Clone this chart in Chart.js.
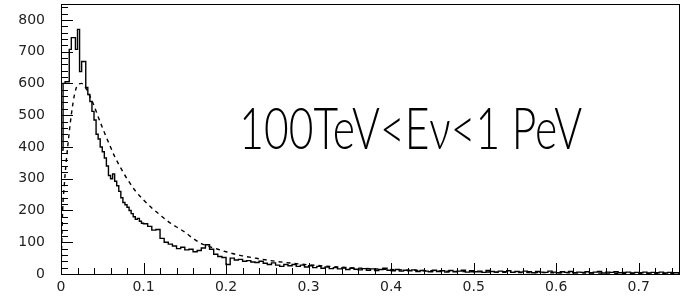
<!DOCTYPE html>
<html>
<head>
<meta charset="utf-8">
<script src="https://cdn.jsdelivr.net/npm/chart.js@4.4.1/dist/chart.umd.min.js"></script>
<style>
  html, body { margin: 0; padding: 0; background: #fff; }
  #wrap { width: 683px; height: 304px; position: relative; }
</style>
</head>
<body>
<div id="wrap"><canvas id="c"></canvas></div>
<script>
// ---- Data ----
const annotationText = "100TeV<E\u03BD<1 PeV";

// Solid histogram: fine bins of width 0.0025 from x = 0 to 0.1
const fineBinWidth = 0.0025;
const fineCounts = [
  150, 390, 600, 605, 605, 707, 744, 744, 707, 770,
  637, 669, 669, 587, 565, 543, 512, 485, 440, 425,
  400, 385, 365, 340, 310, 300, 315, 292, 278, 260,
  240, 225, 218, 210, 200, 190, 180, 172, 175, 166
];

// Solid histogram: coarser bins of width 0.005 from x = 0.1 to 0.75
const coarseStart = 0.1;
const coarseBinWidth = 0.005;
const coarseCounts = [
  160, 158, 150, 138, 140, 112, 100, 94, 88, 80,
  84, 76, 78, 70, 74, 82, 92, 78, 62, 55,
  52, 30, 50, 44, 46, 40, 42, 38, 36, 40,
  34, 30, 35, 28, 24, 30, 26, 30, 24, 28,
  22, 26, 20, 24, 18, 22, 17, 20, 16, 19,
  14, 18, 15, 13, 17, 12, 16, 11, 14, 18,
  12, 10, 14, 9, 12, 10, 13, 8, 11, 9,
  7, 12, 8, 10, 6, 11, 7, 9, 12, 6,
  10, 7, 9, 5, 11, 8, 6, 9, 7, 10,
  5, 8, 6, 9, 7, 4, 8, 6, 5, 9,
  6, 4, 7, 5, 8, 4, 6, 5, 7, 4,
  6, 8, 3, 6, 5, 7, 4, 5, 6, 3,
  5, 4, 6, 3, 5, 4, 6, 3, 5, 4
];

// Dashed curve
const dashX = [0, 0.002, 0.004, 0.006, 0.0085, 0.011, 0.0135, 0.016, 0.02, 0.025,
  0.03, 0.035, 0.04, 0.045, 0.05, 0.055, 0.06, 0.065, 0.07, 0.075,
  0.08, 0.09, 0.1, 0.11, 0.12, 0.13, 0.14, 0.15, 0.16, 0.17,
  0.18, 0.19, 0.2, 0.21, 0.22, 0.24, 0.26, 0.28, 0.3, 0.35,
  0.4, 0.45, 0.5, 0.55, 0.6, 0.65, 0.7, 0.75];
const dashY = [0, 200, 280, 345, 410, 470, 520, 560, 595, 600,
  585, 560, 530, 495, 462, 430, 400, 370, 345, 322,
  300, 262, 233, 208, 186, 165, 148, 132, 112, 96,
  86, 78, 70, 63, 57, 48, 40, 34, 29, 20,
  14, 10, 7, 5, 4, 3, 2, 2];

// Axis tick settings
const xMin = 0, xMax = 0.75, xMajor = 0.1, xMinor = 0.02;
const yMin = 0, yMax = 850, yMajor = 100, yMinor = 20;

// ---- Build datasets ----
const solidPts = [];
fineCounts.forEach((v, i) => solidPts.push({x: i * fineBinWidth, y: v}));
coarseCounts.forEach((v, i) => solidPts.push({x: coarseStart + i * coarseBinWidth, y: v}));
solidPts.push({x: xMax, y: coarseCounts[coarseCounts.length - 1]});

const dashPts = dashX.map((x, i) => ({x: x, y: dashY[i]}));

const frameTicks = {
  id: 'frameTicks',
  afterDatasetsDraw(chart) {
    const ctx = chart.ctx, a = chart.chartArea;
    const xs = chart.scales.x, ys = chart.scales.y;
    ctx.save();
    ctx.strokeStyle = '#000';
    ctx.lineWidth = 1;
    ctx.strokeRect(Math.round(a.left) + 0.5, Math.round(a.top) + 0.5,
      Math.round(a.right - a.left) - 1, Math.round(a.bottom - a.top));
    ctx.beginPath();
    // y ticks (inside, pointing right)
    for (let v = yMin; v <= yMax + 1e-9; v += yMinor) {
      const major = Math.abs(v / yMajor - Math.round(v / yMajor)) < 1e-6;
      const py = Math.round(ys.getPixelForValue(v)) + 0.5;
      ctx.moveTo(a.left, py);
      ctx.lineTo(a.left + (major ? 12 : 7), py);
    }
    // x ticks (inside, pointing up)
    for (let v = xMin; v <= xMax + 1e-9; v += xMinor) {
      const major = Math.abs(v / xMajor - Math.round(v / xMajor)) < 1e-6;
      const px = Math.round(xs.getPixelForValue(v)) + 0.5;
      ctx.moveTo(px, a.bottom);
      ctx.lineTo(px, a.bottom - (major ? 11 : 6));
    }
    ctx.stroke();

    // annotation text
    ctx.fillStyle = '#000';
    ctx.font = '300 57px Lato';
    ctx.textBaseline = 'alphabetic';
    ctx.textAlign = 'left';
    const w = ctx.measureText(annotationText).width;
    const targetW = 343;
    const px = xs.getPixelForValue(0.216);
    const py = ys.getPixelForValue(392);
    ctx.translate(px, py);
    ctx.scale(targetW / w, 1);
    ctx.fillText(annotationText, 0, 0);
    ctx.restore();
  }
};

const noPad = (s) => { s.paddingTop = 0; s.paddingBottom = 0; s.paddingLeft = 0; s.paddingRight = 0; };

new Chart(document.getElementById('c'), {
  type: 'scatter',
  data: {
    datasets: [
      {
        data: solidPts,
        showLine: true,
        stepped: 'after',
        borderColor: '#000',
        borderWidth: 1.4,
        pointRadius: 0,
        fill: false
      },
      {
        data: dashPts,
        showLine: true,
        cubicInterpolationMode: 'monotone',
        borderColor: '#000',
        borderWidth: 1.4,
        borderDash: [4, 4],
        pointRadius: 0,
        fill: false
      }
    ]
  },
  options: {
    responsive: true,
    maintainAspectRatio: false,
    animation: false,
    layout: { padding: { top: 4, right: 3, left: 0, bottom: 0 } },
    plugins: { legend: { display: false }, tooltip: { enabled: false }, title: { display: false } },
    scales: {
      x: {
        type: 'linear', min: xMin, max: xMax,
        grid: { display: false, drawTicks: false },
        border: { display: false },
        ticks: {
          stepSize: xMajor, includeBounds: false, padding: 5, color: '#222',
          font: { family: 'DejaVu Sans', size: 14 },
          maxRotation: 0, autoSkip: false,
          callback: (v) => v === 0 ? '0' : Number(v).toFixed(1)
        },
        afterFit: (s) => { s.height = 30; noPad(s); }
      },
      y: {
        type: 'linear', min: yMin, max: yMax,
        grid: { display: false, drawTicks: false },
        border: { display: false },
        ticks: {
          stepSize: yMajor, includeBounds: false, padding: 16, color: '#222',
          font: { family: 'DejaVu Sans', size: 14 },
          autoSkip: false
        },
        afterFit: (s) => { s.width = 61; noPad(s); }
      }
    }
  },
  plugins: [frameTicks]
});
</script>
</body>
</html>
